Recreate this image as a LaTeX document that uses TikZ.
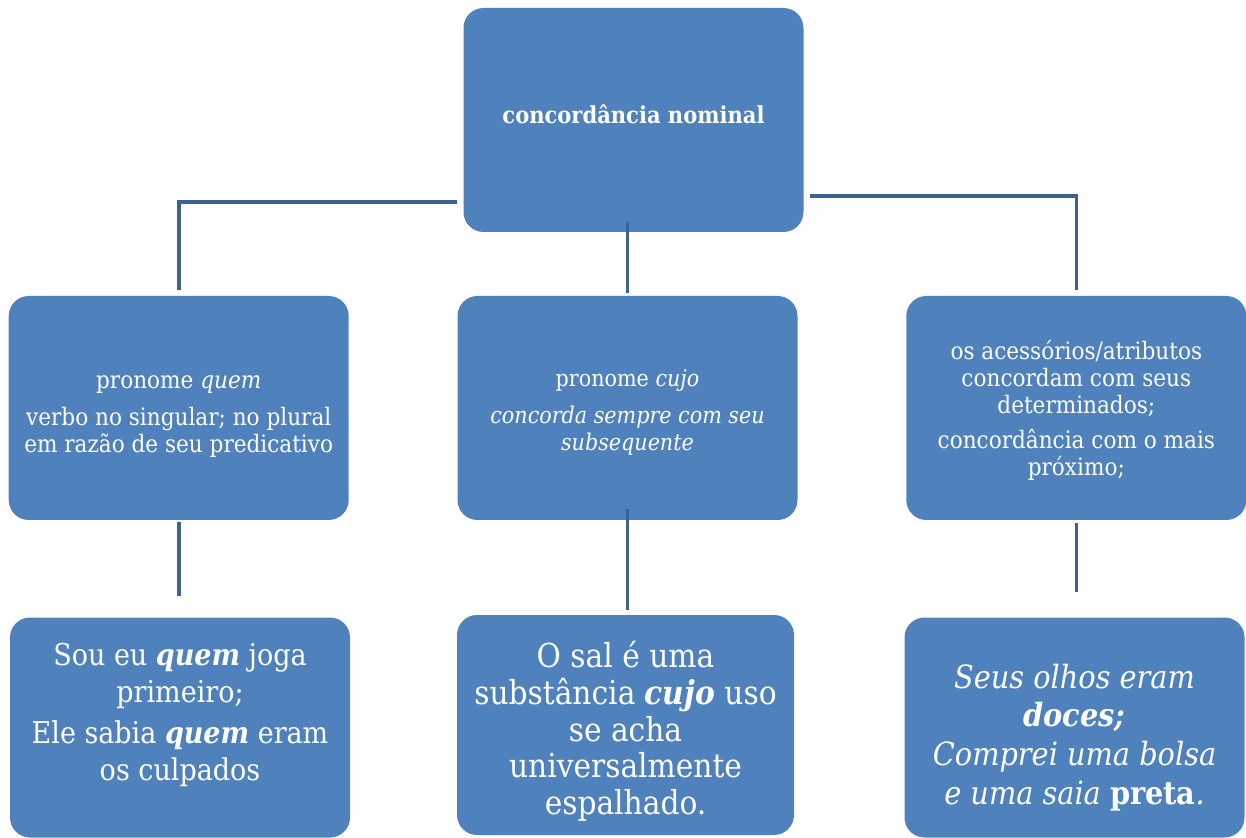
\documentclass[tikz,border=0pt]{standalone}
\usepackage{fontspec}
\setmainfont{DejaVu Serif Condensed}
\usepackage{tikz}
\usetikzlibrary{positioning,calc}

\definecolor{boxblue}{HTML}{4F81BD}
\definecolor{lineblue}{HTML}{3E6092}

% text block moved up or down inside its box
\newcommand{\shiftup}[2]{\raisebox{#1}[\height][\depth]{\begin{tabular}{@{}c@{}}#2\end{tabular}}}

\begin{document}
\begin{tikzpicture}[
    x=0.5pt, y=-0.5pt,
    box/.style={rectangle, rounded corners=10pt, fill=boxblue, text=white, minimum width=170pt, minimum height=112pt, align=center, inner sep=0pt},
    concept/.style={box, font=\fontsize{12}{13.5}\selectfont},
    example/.style={box, minimum height=110pt, font=\fontsize{15}{18.5}\selectfont},
    link/.style={draw=lineblue, line width=1.8pt}
]
\useasboundingbox (0,0) rectangle (1246,838);

\node[box, font=\bfseries\fontsize{11.7}{14}\selectfont] (top) at (633.5,120) {\shiftup{1pt}{concordância nominal}};

% second row
\node[concept, font=\fontsize{11.5}{13.5}\selectfont] (cj) at (627.5,408) {\shiftup{-2.5pt}{pronome \textit{cujo}\\[5pt] \textit{concorda sempre com seu}\\ \textit{subsequente}}};
\node[concept, left=54pt of cj] (qm) {\shiftup{-3.5pt}{pronome \textit{quem}\\[5pt] verbo no singular; no plural\\ em razão de seu predicativo}};
\node[concept, right=54pt of cj] (rt) {\shiftup{-2pt}{os acessórios/atributos\\ concordam com seus\\ determinados;\\[4pt] concordância com o mais\\ próximo;}};

% examples
\node[example] (ex1) at (180,727.5) {\shiftup{6pt}{Sou eu \textbf{\textit{quem}} joga\\ primeiro;\\[2pt] Ele sabia \textbf{\textit{quem}} eram\\ os culpados}};
\node[example, minimum width=168.5pt, font=\fontsize{16.5}{18.3}\selectfont] (ex2) at (625.5,725) {\shiftup{-4pt}{O sal é uma\\ substância \textbf{\textit{cujo}} uso\\ se acha\\ universalmente\\ espalhado.}};
\node[example, font=\itshape\fontsize{16}{19.4}\selectfont] (ex3) at (1074.5,727.5) {\shiftup{-5.5pt}{Seus olhos eram\\ \textbf{doces;}\\ Comprei uma bolsa\\ e uma saia \textbf{\upshape preta}.}};

\draw[link] ([xshift=-3pt,yshift=-41pt]top.west) -| ([yshift=3pt]qm.north);
\draw[link] ([xshift=3pt,yshift=-38pt]top.east) -| ([yshift=3pt]rt.north);
\draw[link] ($(cj.north |- top.south)+(0,5pt)$) -- ([yshift=1.5pt]cj.north);

\draw[link] ([yshift=-1pt]qm.south) -- ([yshift=10.5pt]qm.south |- ex1.north);
\draw[link] ([yshift=5.5pt]cj.south) -- ([yshift=2.5pt]cj.south |- ex2.north);
\draw[link] ([yshift=-1.5pt]rt.south) -- ([yshift=12.5pt]rt.south |- ex3.north);

\end{tikzpicture}
\end{document}
